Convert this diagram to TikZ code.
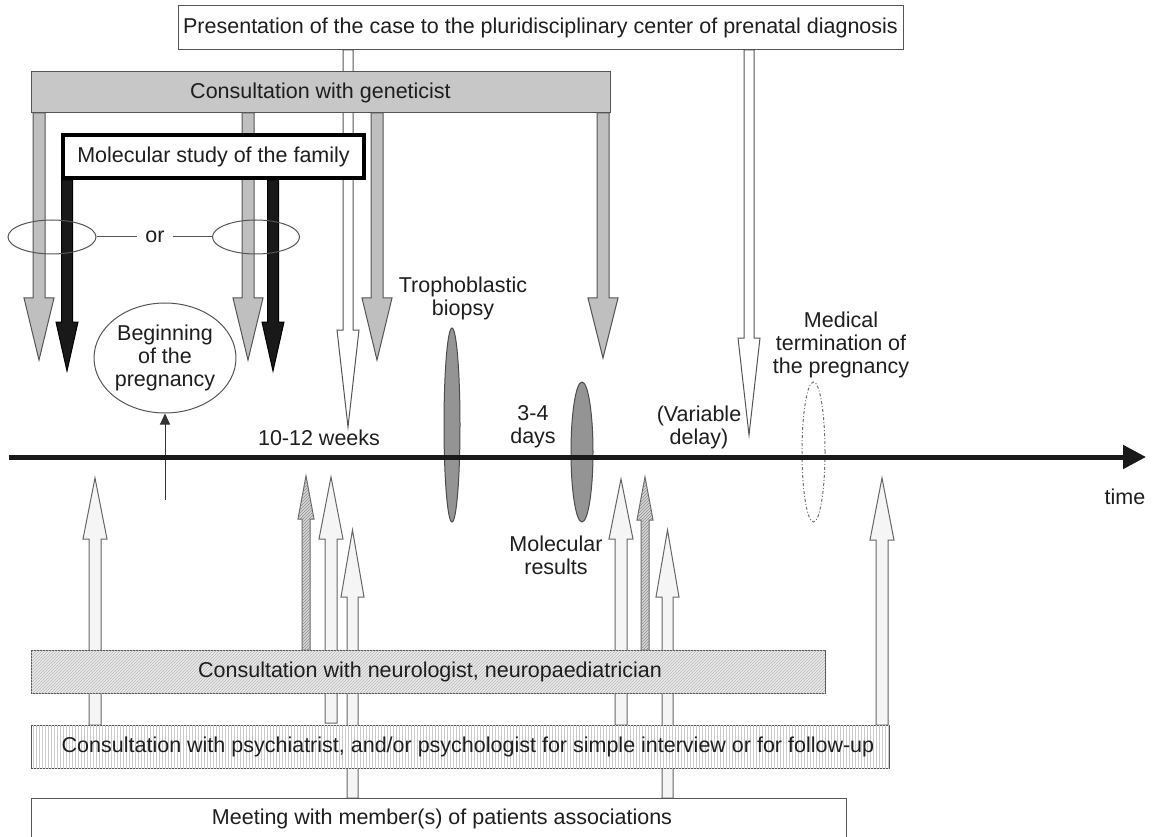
\documentclass[tikz,border=0pt]{standalone}
\usepackage{fontspec}
\setmainfont{Liberation Sans}
\usetikzlibrary{shapes.geometric,patterns,arrows.meta}
\definecolor{txt}{HTML}{1E1E1E}
\definecolor{edge}{HTML}{555555}
% #1 style, #2 centre x, #3 open end y, #4 head base y, #5 tip y, #6 half shaft, #7 half head
\newcommand{\blockarr}[7]{\path[#1] ({#2-#6},#3) -- ({#2-#6},#4) -- ({#2-#7},#4) -- (#2,#5) -- ({#2+#7},#4) -- ({#2+#6},#4) -- ({#2+#6},#3) -- cycle;}
\begin{document}
\begin{tikzpicture}[x=1pt,y=-1pt,
  every node/.style={font=\fontsize{21.5}{23}\selectfont, text=txt},
  lbl/.style={align=center, inner sep=0},
  boxthin/.style={draw=edge, line width=1, fill=white, inner sep=0},
  genbox/.style={draw=edge, line width=1, fill=black!22, inner sep=0},
  molbox/.style={draw=black, line width=4, fill=white, inner sep=0},
  neurobox/.style={draw=edge, line width=1, fill=black!8, postaction={pattern=north east lines, pattern color=black!28}, inner sep=0},
  psybox/.style={draw=edge, line width=1, fill=white, postaction={pattern=vertical lines, pattern color=black!20}, inner sep=0},
  whitearr/.style={draw=edge, line width=1, fill=white},
  grayarr/.style={draw=edge, line width=1, fill=black!25},
  blackarr/.style={draw=black, line width=1, fill=black!90},
  uparr/.style={draw=black!60, line width=1, fill=black!4},
  hatcharr/.style={draw=black!60, line width=1, fill=black!15, postaction={pattern=north east lines, pattern color=black!45}},
  orell/.style={ellipse, draw=edge, line width=1, minimum width=88, minimum height=34, inner sep=0},
  bioell/.style={ellipse, draw=black!70, line width=1, fill=black!42, inner sep=0}
]
\useasboundingbox[fill=white] (0,0) rectangle (1152,837);

% arrows from the presentation box
\blockarr{whitearr}{348}{50}{330}{427}{5}{11}
\blockarr{whitearr}{749}{50}{338}{435}{5}{11}

% arrows from the geneticist box
\blockarr{grayarr}{39}{113}{298}{360}{6}{15}
\blockarr{grayarr}{248}{113}{298}{360}{6}{15}
\blockarr{grayarr}{377}{113}{298}{360}{6}{15}
\blockarr{grayarr}{603}{113}{298}{358}{6}{15}

% upward arrows from the lower boxes
\blockarr{uparr}{95}{725}{539}{478}{6}{12}
\blockarr{hatcharr}{306}{650}{519}{476}{4}{8}
\blockarr{uparr}{331}{723}{539}{477}{6}{12}
\blockarr{uparr}{352.5}{798}{597}{530}{5.5}{11.5}
\blockarr{uparr}{621}{725}{539}{479}{6}{12}
\blockarr{hatcharr}{645}{650}{520}{477}{4}{8}
\blockarr{uparr}{667.5}{798}{597}{530}{5.5}{11.5}
\blockarr{uparr}{882}{725}{540}{478}{6}{12}

% boxes
\node[boxthin, minimum width=725, minimum height=44] (pres) at (540.5,28) {Presentation of the case to the pluridisciplinary center of prenatal diagnosis};
\node[genbox, minimum width=579, minimum height=41] (gen) at (320.5,92.5) {Consultation with geneticist};
\node[molbox, minimum width=301, minimum height=43] (mol) at (213.5,156.5) {Molecular study of the family};
\node[neurobox, minimum width=794, minimum height=43] (neuro) at (428,671.5) {};
\node[lbl] (neurot) at (430,671.5) {Consultation with neurologist, neuropaediatrician};
\node[psybox, minimum width=858, minimum height=43] (psy) at (460,746.5) {};
\node[lbl] (psyt) at (468,746.5) {Consultation with psychiatrist, and/or psychologist for simple interview or for follow-up};
\node[boxthin, minimum width=815, minimum height=42] (meet) at (438.5,819) {};
\node[lbl] (meett) at (442,819) {Meeting with member(s) of patients associations};

% black arrows from the molecular study
\blockarr{blackarr}{67}{180}{322}{371}{5.5}{11}
\blockarr{blackarr}{273}{180}{322}{371}{5.5}{11}

% "or" ellipses
\node[orell] (orl) at (52,237) {};
\node[orell, minimum width=87] (orr) at (256,237) {};
\node[lbl, inner xsep=8] (or) at (155,237) {or};
\draw[edge, line width=1] (orl.east) -- (or.west);
\draw[edge, line width=1] (or.east) -- (orr.west);

% beginning of the pregnancy
\node[ellipse, draw=edge, line width=1, fill=white, minimum width=140, minimum height=110, inner sep=0, align=center] (beg) at (165,358) {Beginning\\of the\\pregnancy};
\coordinate (begfoot) at (165,500);
\draw[black!80, line width=1, -{Triangle[length=11pt,width=10pt]}] (begfoot) -- (beg.south);

% events on the time line
\node[bioell, minimum width=16, minimum height=194] (bio) at (452,425) {};
\node[bioell, minimum width=22, minimum height=140] (mres) at (582,452) {};
\node[ellipse, draw=black!55, line width=1, dash dot, minimum width=23, minimum height=140, inner sep=0] (mtp) at (813.5,452) {};

% time line
\coordinate (t0) at (9,457);
\coordinate (t1) at (1146,457);
\draw[line width=5, black!90, -{Triangle[length=23pt,width=23pt]}] (t0) -- (t1);

% labels
\node[lbl] (wk) at (319,438) {10-12 weeks};
\node[lbl] (trob) at (463,298) {Trophoblastic\\biopsy};
\node[lbl] (days) at (533,427) {3-4\\days};
\node[lbl] (vard) at (699,427) {(Variable\\delay)};
\node[lbl] (medt) at (841,345) {Medical\\termination of\\the pregnancy};
\node[lbl] (molr) at (556,555) {Molecular\\results};
\node[lbl] (time) at (1125,497) {time};
\end{tikzpicture}
\end{document}
